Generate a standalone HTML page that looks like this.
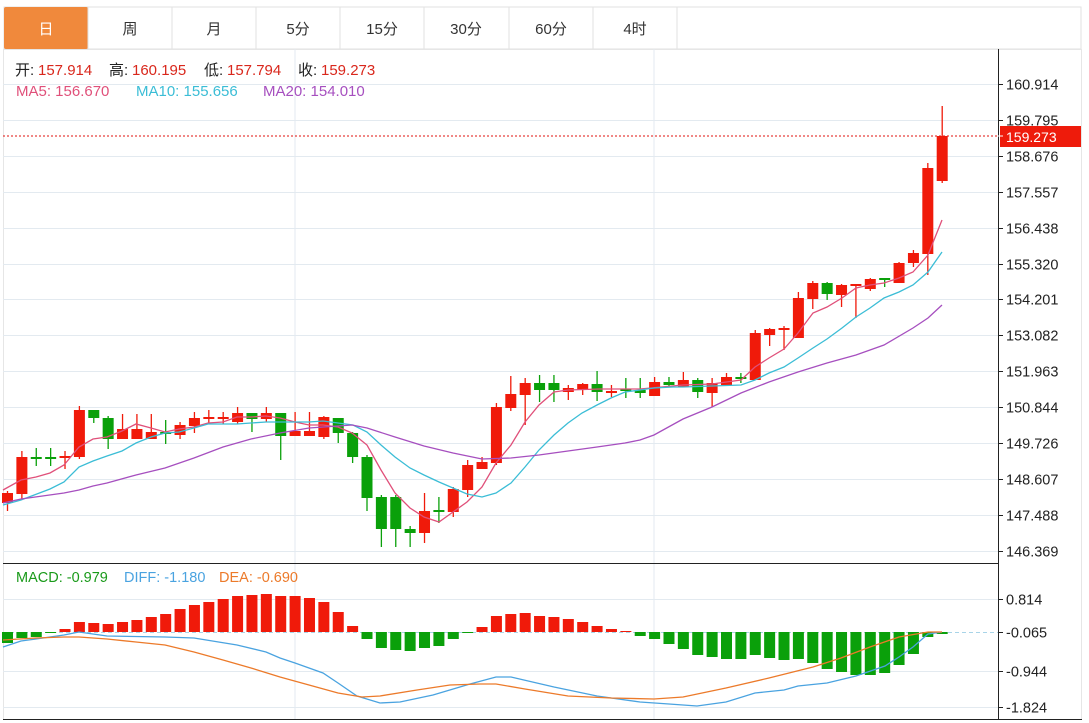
<!DOCTYPE html>
<html><head><meta charset="utf-8"><style>
body{margin:0;background:#fff;width:1089px;height:723px;overflow:hidden;font-family:"Liberation Sans","Noto Sans CJK SC",sans-serif}
svg{position:absolute;left:0;top:0}
</style></head><body>
<svg id="s" width="1089" height="723" xmlns="http://www.w3.org/2000/svg" font-family="Liberation Sans, Noto Sans CJK SC, sans-serif">
<rect x="0" y="0" width="1089" height="723" fill="#fff"/>
<rect x="4" y="7" width="1077" height="42" fill="#fff" stroke="#e2e2e2"/>
<rect x="4" y="7" width="84" height="42" fill="#f0893c" rx="2"/>
<g stroke="#e2e2e2"><line x1="172" y1="7" x2="172" y2="49"/><line x1="256" y1="7" x2="256" y2="49"/><line x1="340" y1="7" x2="340" y2="49"/><line x1="424" y1="7" x2="424" y2="49"/><line x1="509" y1="7" x2="509" y2="49"/><line x1="593" y1="7" x2="593" y2="49"/><line x1="677" y1="7" x2="677" y2="49"/><line x1="88" y1="7" x2="88" y2="49"/></g>
<g font-size="15" text-anchor="middle" fill="#333">
<text x="46" y="34" fill="#fff">日</text><text x="130" y="34">周</text><text x="214" y="34">月</text><text x="298" y="34">5分</text><text x="382" y="34">15分</text><text x="466" y="34">30分</text><text x="551" y="34">60分</text><text x="635" y="34">4时</text>
</g>
<rect x="3.5" y="49.5" width="1078" height="670" fill="none" stroke="#e6e6e6"/>
<g id="grid"></g>
<line x1="295" y1="49" x2="295" y2="719" stroke="#e3eaf0"/>
<line x1="654" y1="49" x2="654" y2="719" stroke="#e3eaf0"/>
<line x1="3" y1="563.5" x2="998" y2="563.5" stroke="#222"/>
<line x1="3" y1="719.5" x2="1082" y2="719.5" stroke="#222"/>
<line x1="998.5" y1="49" x2="998.5" y2="719" stroke="#222"/>
<g id="ch"></g>
<line x1="3" y1="136" x2="998" y2="136" stroke="#e0120c" stroke-dasharray="2,2"/>
<rect x="1000" y="126" width="81" height="21" fill="#ee1b0b"/>
<text x="1006" y="142" font-size="14" fill="#fff">159.273</text>
<line x1="998" y1="136" x2="1003" y2="136" stroke="#fff"/>
<g font-size="15">
<text x="15" y="75" fill="#222">开:</text><text x="38" y="75" fill="#d9271c">157.914</text>
<text x="109" y="75" fill="#222">高:</text><text x="132" y="75" fill="#d9271c">160.195</text>
<text x="204" y="75" fill="#222">低:</text><text x="227" y="75" fill="#d9271c">157.794</text>
<text x="298" y="75" fill="#222">收:</text><text x="321" y="75" fill="#d9271c">159.273</text>
<text x="16" y="96" fill="#e0507a">MA5: 156.670</text>
<text x="136" y="96" fill="#3bbdd6">MA10: 155.656</text>
<text x="263" y="96" fill="#a64fbf">MA20: 154.010</text>
</g>
<g font-size="14.5">
<text x="16" y="582" fill="#1a9a1a">MACD: -0.979</text>
<text x="124" y="582" fill="#4aa3e0">DIFF: -1.180</text>
<text x="219" y="582" fill="#ec7a2a">DEA: -0.690</text>
</g>
</svg>
<script>
var NS="http://www.w3.org/2000/svg";
function el(p,t,a,txt){var e=document.createElementNS(NS,t);for(var k in a)e.setAttribute(k,a[k]);if(txt!=null)e.textContent=txt;p.appendChild(e);return e;}
var g=document.getElementById('grid'),c=document.getElementById('ch');
var pl=["160.914","159.795","158.676","157.557","156.438","155.320","154.201","153.082","151.963","150.844","149.726","148.607","147.488","146.369"];
for(var i=0;i<14;i++){var y=Math.round(84+35.9*i)+0.5;el(g,'line',{x1:3,x2:998,y1:y,y2:y,stroke:'#e3eaf0'});el(g,'line',{x1:998,x2:1003,y1:y,y2:y,stroke:'#222'});el(g,'text',{x:1006,y:y+5,'font-size':14.5,fill:'#222'},pl[i]);}
var ml=[["0.814",599.5],["-0.065",632.5],["-0.944",671.5],["-1.824",707.5]];
ml.forEach(function(m,i){if(i!=1)el(g,'line',{x1:3,x2:998,y1:m[1],y2:m[1],stroke:'#e3eaf0'});el(g,'line',{x1:998,x2:1003,y1:m[1],y2:m[1],stroke:'#222'});el(g,'text',{x:1006,y:m[1]+5,'font-size':14.5,fill:'#222'},m[0]);});
el(g,'line',{x1:3,x2:998,y1:632.5,y2:632.5,stroke:'#a8d4e8','stroke-dasharray':'4,3'});
var C=[[491,511,493,503,1],[451,500,457,494,1],[448,466,457,459,0],[448,466,457,459,0],[451,469,456,458,1],[406,459,410,457,1],[410,423,410,418,0],[416,449,418,439,0],[414,439,429,439,1],[414,439,429,439,1],[414,439,432,439,1],[420,444,432,434,0],[422,439,425,435,1],[412,433,418,426,1],[410,424,417,419,1],[412,424,417,419,1],[407,424,413,422,1],[413,432,413,419,0],[407,422,413,419,1],[413,460,413,436,0],[412,436,431,436,1],[412,436,431,436,1],[416,439,417,437,1],[418,443,418,433,0],[432,463,433,457,0],
[455,511,457,498,0],[495,547,497,529,0],[495,547,497,529,0],[526,547,529,533,0],[493,543,511,533,1],[497,523,510,512,0],[487,517,489,512,1],[460,497,465,490,1],[457,469,462,469,1],[403,465,407,463,1],[376,411,394,408,1],[378,425,383,395,1],[375,402,383,390,0],[375,402,383,390,0],[385,400,388,392,1],[383,395,384,390,1],[371,401,384,392,0],[385,397,391,393,1],[378,398,389,391,0],[378,398,390,393,0],[377,396,382,396,1],[377,387,382,385,0],[372,387,380,387,1],[378,398,380,392,0],
[378,407,383,393,1],[373,385,377,385,1],[373,383,377,379,0],[330,380,333,380,1],[328,346,329,335,1],[326,350,328,330,1],[292,338,298,338,1],[281,309,283,299,1],[282,300,283,294,0],[284,307,285,295,1],[284,318,284,286,1],[278,291,279,289,1],[278,287,278,280,0],[262,283,263,283,1],[250,267,253,263,1],[163,275,168,254,1],[106,183,136,181,1]];
var H=[643,638,637,633,629,622,623,624,622,620,617,614,609,605,602,599,596,595,594,596,596,598,602,612,626,639,648,650,651,648,646,639,633,627,616,614,613,616,617,619,622,626,629,631,636,639,644,649,655,657,659,659,655,658,660,659,663,669,672,675,675,673,665,654,637,634];
function X(i){return 7.5+i*14.38;}
H.forEach(function(h,i){var x=X(i),up=h<632;var y0=Math.min(h,632),y1=Math.max(h,632);el(c,'rect',{x:x-5.5,y:y0,width:11,height:Math.max(1,y1-y0),fill:up?'#f01a0a':'#0aa00a'});});
C.forEach(function(d,i){var x=X(i),col=d[4]?'#f01a0a':'#0aa00a';el(c,'line',{x1:x,x2:x,y1:d[0],y2:d[1],stroke:col,'stroke-width':1.3});var h=d[3]-d[2];el(c,'rect',{x:x-5.5,y:d[2],width:11,height:Math.max(h,1.5),fill:col});});
function P(pts,col){el(c,'polyline',{points:pts,fill:'none',stroke:col,'stroke-width':1.3});}
P("3,490 21,480 36,477 50,473 64,465 79,447 93,439 107,437 122,431 136,424 151,428 165,432 179,429 194,427 208,423 223,422 237,417 251,417 266,416 280,418 295,422 309,425 323,425 338,427 352,433 367,445 381,470 395,493 410,508 424,517 439,522 453,512 467,502 482,487 496,463 511,445 525,422 539,405 554,392 568,390 600,389 640,389 683,385 712,384 741,380 755,367 769,358 784,349 798,333 813,313 827,307 842,298 856,288 870,285 884,283 899,278 913,272 928,255 942,220","#e0507a");
P("3,505 21,500 50,489 64,482 79,467 93,461 107,456 122,451 136,443 151,437 165,433 179,432 194,428 208,424 237,424 251,423 266,422 309,422 323,421 338,423 353,425 367,432 381,445 395,457 410,468 424,475 439,482 453,488 467,494 482,497 496,493 511,483 525,467 539,450 554,435 568,423 582,413 597,405 611,398 625,392 640,390 654,388 673,387 683,387 712,386 741,385 755,380 769,373 784,367 798,358 813,348 827,339 842,328 856,317 870,308 884,298 899,292 913,285 928,272 942,252","#3bbdd6");
P("3,503 21,499 64,493 79,490 93,486 107,483 136,475 165,468 194,458 223,447 251,439 280,433 309,428 338,426 352,425 367,428 395,437 424,446 453,453 482,459 511,458 539,455 568,451 597,447 625,443 640,440 654,435 683,419 712,407 741,393 769,382 798,372 827,363 856,355 884,345 913,328 928,318 942,305","#a64fbf");
P("3,647 21,641 36,639 64,635 79,632 107,636 165,637 194,638 237,645 266,652 280,658 295,663 323,673 338,683 357,696 380,703 400,702 433,695 470,684 496,677 511,677 554,687 597,696 640,702 669,704 697,706 726,702 755,693 784,690 798,686 827,683 856,676 885,666 899,657 913,647 928,634 942,632","#4aa3e0");
P("3,640 36,638 64,637 79,637 107,639 136,642 165,645 194,652 223,660 251,668 280,677 309,685 338,693 362,697 380,696 417,690 450,685 480,684 496,684 525,689 568,696 611,698 654,699 683,697 726,688 769,678 813,667 841,658 870,647 899,637 928,632 942,632","#ec7a2a");
</script>
</body></html>
